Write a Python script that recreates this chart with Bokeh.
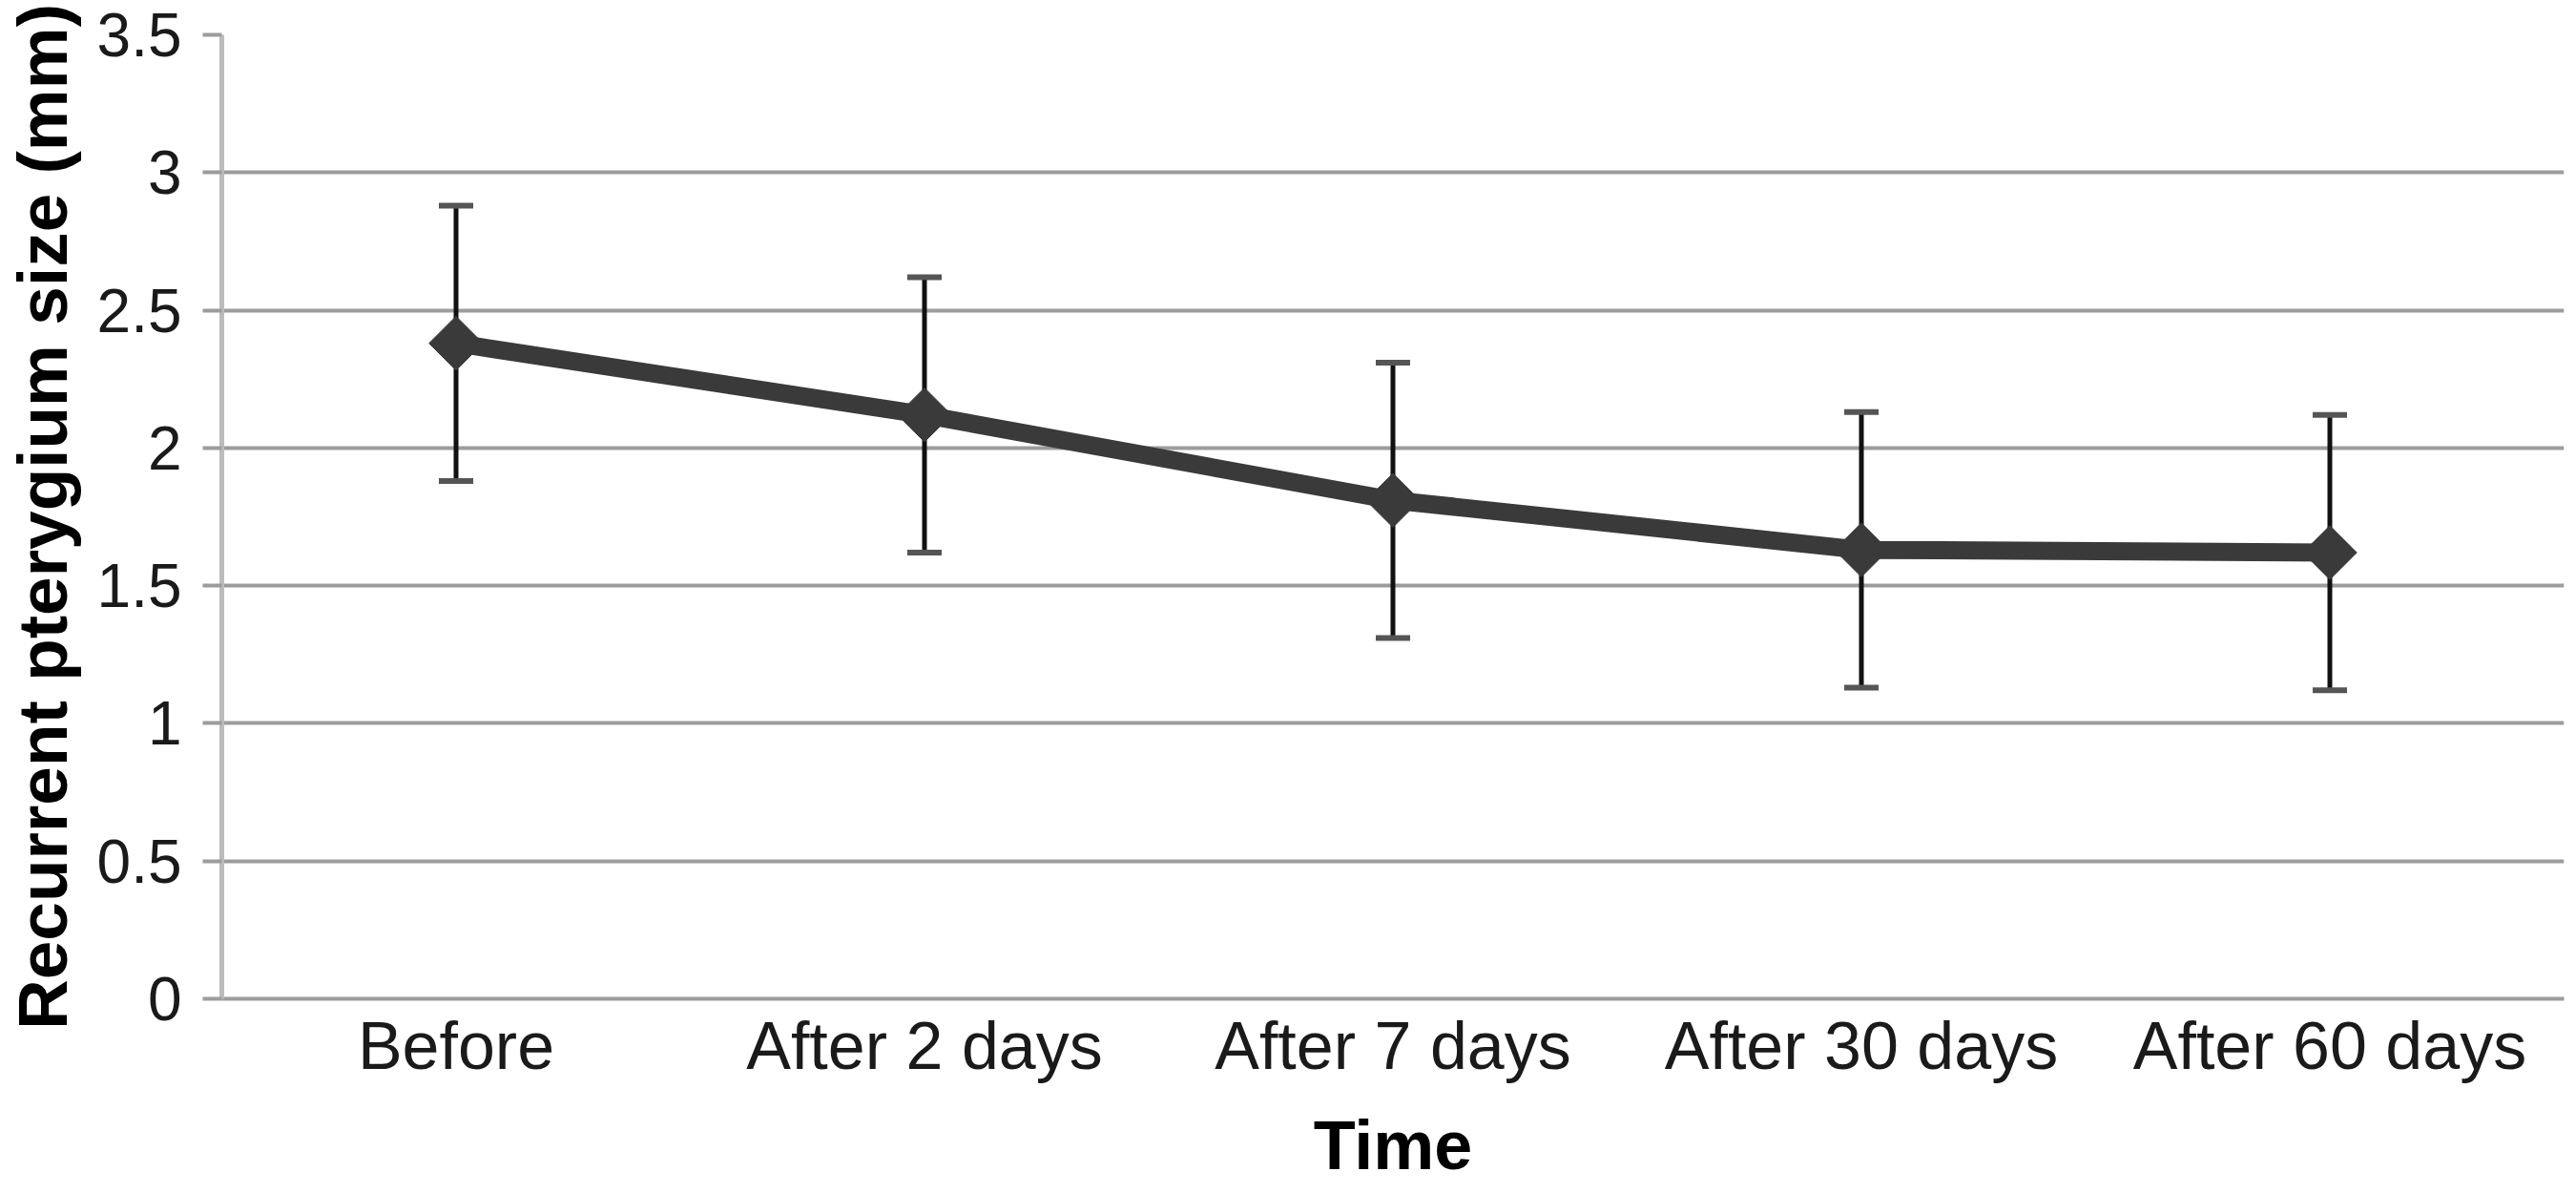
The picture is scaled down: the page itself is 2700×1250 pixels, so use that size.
import math
from bokeh.plotting import figure
from bokeh.models import (FactorRange, Range1d, FixedTicker, CustomJSTickFormatter,
                          Whisker, TeeHead, ColumnDataSource)
from bokeh.embed import file_html
from bokeh.resources import INLINE

categories = ["Before", "After 2 days", "After 7 days", "After 30 days", "After 60 days"]
mean_size = [2.38, 2.12, 1.81, 1.63, 1.62]
err_upper = [2.88, 2.62, 2.31, 2.13, 2.12]
err_lower = [1.88, 1.62, 1.31, 1.13, 1.12]
y_ticks = [0, 0.5, 1, 1.5, 2, 2.5, 3, 3.5]
y_title = "Recurrent pterygium size (mm)"
x_title = "Time"

FONT = "Liberation Sans"

src = ColumnDataSource(dict(x=categories, y=mean_size, upper=err_upper, lower=err_lower))

p = figure(x_range=FactorRange(*categories, range_padding=0),
           y_range=Range1d(0, 3.5),
           width=2692, height=1242,
           output_backend="svg", toolbar_location=None,
           min_border_left=228, min_border_right=5,
           min_border_top=36, min_border_bottom=194)
p.outline_line_color = None
p.background_fill_color = "white"
p.border_fill_color = "white"

p.xgrid.visible = False
p.ygrid.ticker = FixedTicker(ticks=y_ticks)
p.ygrid.grid_line_color = "#9c9c9c"
p.ygrid.grid_line_width = 4

# y axis
p.yaxis.ticker = FixedTicker(ticks=y_ticks)
p.yaxis.formatter = CustomJSTickFormatter(code="return String(Math.round(tick*10)/10)")
p.yaxis.axis_line_color = "#bcbcbc"
p.yaxis.axis_line_width = 5
p.yaxis.major_tick_in = 0
p.yaxis.major_tick_out = 20
p.yaxis.major_tick_line_color = "#9c9c9c"
p.yaxis.major_tick_line_width = 4
p.yaxis.minor_tick_line_color = None
p.yaxis.major_label_text_font = FONT
p.yaxis.major_label_text_font_size = "64px"
p.yaxis.major_label_text_color = "#1a1a1a"
p.yaxis.major_label_standoff = 22
p.yaxis.axis_label = y_title
p.yaxis.axis_label_text_font = FONT
p.yaxis.axis_label_text_font_size = "73px"
p.yaxis.axis_label_text_font_style = "bold"
p.yaxis.axis_label_text_color = "black"
p.yaxis.axis_label_standoff = 14

# x axis
p.xaxis.axis_line_color = "#9c9c9c"
p.xaxis.axis_line_width = 4
p.xaxis.major_tick_line_color = None
p.xaxis.minor_tick_line_color = None
p.xaxis.major_tick_in = 0
p.xaxis.major_tick_out = 0
p.xaxis.major_label_text_font = FONT
p.xaxis.major_label_text_font_size = "70px"
p.xaxis.major_label_text_color = "#1a1a1a"
p.xaxis.major_label_standoff = 10
p.xaxis.axis_label = x_title
p.xaxis.axis_label_text_font = FONT
p.xaxis.axis_label_text_font_size = "72px"
p.xaxis.axis_label_text_font_style = "bold"
p.xaxis.axis_label_text_color = "black"
p.xaxis.axis_label_standoff = 22

# series line and markers
p.line("x", "y", source=src, line_width=19, line_color="#3a3a3a")
p.scatter("x", "y", source=src, marker="square", angle=math.pi / 4, size=40,
          fill_color="#3a3a3a", line_color="#3a3a3a")

# error bars
p.add_layout(Whisker(source=src, base="x", upper="upper", lower="lower",
                     line_color="#111111", line_width=5,
                     upper_head=TeeHead(size=36, line_width=6, line_color="#555555"),
                     lower_head=TeeHead(size=36, line_width=6, line_color="#555555")))

open("out.html", "w").write(file_html(p, INLINE))
